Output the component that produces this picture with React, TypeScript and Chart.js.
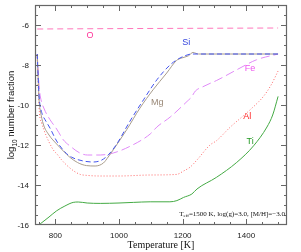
import React, { useEffect, useRef } from "react";
import { Chart, registerables } from "chart.js";

Chart.register(...registerables);

// ---- data (Temperature [K], log10 number fraction) ----
const oData: [number, number][] = [[743, -6.2], [1000, -6.18], [1500, -6.15]];

const siData: [number, number][] = [
  [743, -7.45], [746, -8.6], [749, -9.6], [753, -10.1], [760, -10.5], [770, -10.8],
  [783, -11.15], [804, -11.8], [830, -12.35], [850, -12.6], [888, -12.8], [920, -12.85],
  [946, -12.75], [966, -12.5], [993, -11.95], [1034, -10.82], [1077, -9.74], [1119, -8.74],
  [1161, -7.99], [1187, -7.69], [1214, -7.5], [1228, -7.45], [1500, -7.45],
];

const mgData: [number, number][] = [
  [743, -7.45], [746, -8.7], [749, -9.8], [753, -10.3], [762, -10.95], [780, -11.5],
  [804, -11.95], [825, -12.3], [846, -12.62], [870, -12.88], [898, -13.03], [925, -13.05],
  [951, -12.9], [966, -12.6], [982, -12.24], [1024, -11.24], [1066, -10.15], [1107, -9.24],
  [1150, -8.4], [1181, -7.77], [1197, -7.65], [1218, -7.54], [1233, -7.37], [1242, -7.42],
  [1250, -7.45], [1500, -7.45],
];

const feData: [number, number][] = [
  [743, -7.45], [746, -8.3], [749, -9.1], [753, -9.6], [765, -10.2], [783, -10.73],
  [804, -11.2], [825, -11.74], [850, -12.1], [877, -12.4], [901, -12.5], [941, -12.5],
  [982, -12.4], [1034, -12.07], [1098, -11.45], [1119, -11.1], [1161, -10.6], [1214, -9.82],
  [1228, -9.6], [1240, -9.3], [1262, -9.1], [1286, -8.92], [1306, -8.78], [1370, -8.24],
  [1432, -7.74], [1500, -7.45],
];

const alData: [number, number][] = [
  [743, -7.6], [746, -9.0], [750, -10.4], [757, -10.9], [763, -11.2], [780, -11.85],
  [796, -12.3], [805, -12.45], [820, -12.75], [837, -13.03], [858, -13.3], [878, -13.47],
  [900, -13.52], [941, -13.55], [1000, -13.55], [1098, -13.5], [1181, -13.47], [1203, -13.3],
  [1224, -13.1], [1245, -12.75], [1286, -12.0], [1306, -11.79], [1350, -11.1], [1412, -10.24],
  [1454, -9.57], [1478, -9.0], [1500, -8.3],
];

const tiData: [number, number][] = [
  [752, -15.95], [780, -15.6], [804, -15.29], [830, -15.05], [856, -14.87], [872, -14.85],
  [900, -14.9], [941, -14.92], [1000, -14.9], [1045, -14.87], [1098, -14.84], [1160, -14.84],
  [1182, -14.78], [1203, -14.62], [1229, -14.45], [1245, -14.2], [1306, -13.62], [1370, -12.87],
  [1423, -12.04], [1465, -11.1], [1483, -10.5], [1500, -9.57],
];

const seriesNames = ["O", "Si", "Mg", "Fe", "Al", "Ti"];
// label anchor positions in data coordinates
const labelT = [909, 1211, 1120, 1412, 1403, 1412];
const labelV = [-6.55, -6.9, -9.9, -8.2, -10.6, -11.85];

const xMajorTicks = [800, 1000, 1200, 1400];
const yMajorTicks = [-16, -14, -12, -10, -8, -6];
const xRange = [736, 1528];
const yRange = [-16, -5];

const lineColors = ["#ff77bb", "#4455ee", "#a89c8c", "#e08af8", "#ff6666", "#44aa44"];
const labelColors = ["#ff3399", "#3344dd", "#998877", "#ee55ee", "#ff2222", "#229922"];
const dashes: number[][] = [[6, 4], [5, 3], [], [9, 4], [1, 2], []];

const toXY = (d: [number, number][]) => d.map(([x, y]) => ({ x, y }));

export default function App() {
  const ref = useRef<HTMLCanvasElement | null>(null);

  useEffect(() => {
    if (!ref.current) return;
    const all = [oData, siData, mgData, feData, alData, tiData];

    const decor = {
      id: "decor",
      afterDraw(chart: any) {
        const ctx = chart.ctx as CanvasRenderingContext2D;
        const { left, right, top, bottom } = chart.chartArea;
        const xs = chart.scales.x;
        const ys = chart.scales.y;
        ctx.save();
        // frame
        ctx.strokeStyle = "#666";
        ctx.lineWidth = 1.2;
        ctx.strokeRect(left + 0.5, top + 0.5, right - left - 1, bottom - top - 1);
        // ticks
        ctx.lineWidth = 1;
        ctx.beginPath();
        for (let t = 750; t <= 1500; t += 50) {
          const px = Math.round(xs.getPixelForValue(t)) + 0.5;
          const len = t % 200 === 0 ? 6 : 3;
          ctx.moveTo(px, bottom);
          ctx.lineTo(px, bottom - len);
          ctx.moveTo(px, top);
          ctx.lineTo(px, top + len);
        }
        for (let v = -15.5; v <= -5.5; v += 0.5) {
          const py = Math.round(ys.getPixelForValue(v)) + 0.5;
          const len = Math.abs(v % 2) === 0 ? 6 : 3;
          ctx.moveTo(left, py);
          ctx.lineTo(left + len, py);
          ctx.moveTo(right, py);
          ctx.lineTo(right - len, py);
        }
        ctx.stroke();

        // tick labels
        ctx.fillStyle = "#222";
        ctx.font = "8px 'Liberation Sans', Arial, sans-serif";
        ctx.textAlign = "center";
        ctx.textBaseline = "alphabetic";
        xMajorTicks.forEach((t) => {
          ctx.fillText(String(t), xs.getPixelForValue(t), bottom + 13);
        });
        ctx.textAlign = "right";
        ctx.textBaseline = "middle";
        yMajorTicks.forEach((v) => {
          ctx.fillText(String(v), left - 6, ys.getPixelForValue(v) + 0.5);
        });

        // x title
        ctx.font = "10px 'Liberation Serif', 'Times New Roman', serif";
        ctx.textAlign = "center";
        ctx.textBaseline = "alphabetic";
        ctx.fillStyle = "#111";
        ctx.fillText("Temperature [K]", (left + right) / 2, 248);

        // y title with subscript
        ctx.save();
        ctx.translate(14, (top + bottom) / 2);
        ctx.rotate(-Math.PI / 2);
        const big = "9.5px 'Liberation Sans', Arial, sans-serif";
        const small = "6.5px 'Liberation Sans', Arial, sans-serif";
        ctx.font = big;
        const w1 = ctx.measureText("log").width;
        const w3 = ctx.measureText(" number fraction").width;
        ctx.font = small;
        const w2 = ctx.measureText("10").width;
        let x0 = -(w1 + w2 + w3) / 2;
        ctx.textAlign = "left";
        ctx.font = big;
        ctx.fillText("log", x0, 0);
        ctx.font = small;
        ctx.fillText("10", x0 + w1, 2.5);
        ctx.font = big;
        ctx.fillText(" number fraction", x0 + w1 + w2, 0);
        ctx.restore();

        // series labels
        ctx.font = "9px 'Liberation Sans', Arial, sans-serif";
        ctx.textAlign = "center";
        ctx.textBaseline = "middle";
        seriesNames.forEach((n, i) => {
          ctx.fillStyle = labelColors[i];
          ctx.fillText(n, xs.getPixelForValue(labelT[i]), ys.getPixelForValue(labelV[i]));
        });

        // annotation
        ctx.fillStyle = "#111";
        ctx.textBaseline = "alphabetic";
        ctx.textAlign = "left";
        const af = "7px 'Liberation Serif', 'Times New Roman', serif";
        const asub = "5px 'Liberation Serif', 'Times New Roman', serif";
        ctx.font = af;
        const aw1 = ctx.measureText("T").width;
        const rest = "=1500 K, log(g)=3.0, [M/H]=\u22123.0";
        const aw3 = ctx.measureText(rest).width;
        ctx.font = asub;
        const aw2 = ctx.measureText("eff").width;
        const ax = right - 2 - (aw1 + aw2 + aw3);
        const ay = 215.5;
        ctx.font = af;
        ctx.fillText("T", ax, ay);
        ctx.font = asub;
        ctx.fillText("eff", ax + aw1, ay + 1.5);
        ctx.font = af;
        ctx.fillText(rest, ax + aw1 + aw2, ay);
        ctx.restore();
      },
    };

    const chart = new Chart(ref.current, {
      type: "line",
      data: {
        datasets: all.map((d, i) => ({
          label: seriesNames[i],
          data: toXY(d),
          borderColor: lineColors[i],
          borderWidth: 1,
          borderDash: dashes[i],
          pointRadius: 0,
          fill: false,
          cubicInterpolationMode: "monotone" as const,
          tension: 0.4,
        })),
      },
      options: {
        animation: false,
        responsive: false,
        devicePixelRatio: 1,
        layout: { padding: { top: 5, right: 14, left: 0, bottom: 0 } },
        plugins: { legend: { display: false }, tooltip: { enabled: false } },
        scales: {
          x: {
            type: "linear",
            min: xRange[0],
            max: xRange[1],
            grid: { display: false },
            border: { display: false },
            ticks: { display: false },
            afterFit: (s: any) => {
              s.height = 27;
            },
          },
          y: {
            type: "linear",
            min: yRange[0],
            max: yRange[1],
            grid: { display: false },
            border: { display: false },
            ticks: { display: false },
            afterFit: (s: any) => {
              s.width = 35;
            },
          },
        },
      },
      plugins: [decor],
    });
    return () => chart.destroy();
  }, []);

  return (
    <div style={{ position: "absolute", left: 0, top: 0, width: 301, height: 252, background: "#fff" }}>
      <canvas ref={ref} width={301} height={252} style={{ width: 301, height: 252 }} />
    </div>
  );
}
